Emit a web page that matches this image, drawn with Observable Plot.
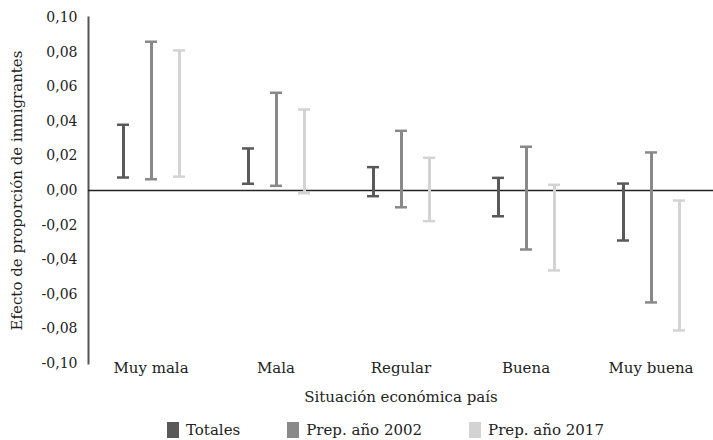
<!DOCTYPE html>
<html><head><meta charset="utf-8">
<script src="https://cdn.jsdelivr.net/npm/d3@7"></script>
<script src="https://cdn.jsdelivr.net/npm/@observablehq/plot@0.6"></script>
<style>
html,body{margin:0;padding:0;background:#fff;}
body{font-family:"DejaVu Serif",serif;width:713px;height:440px;overflow:hidden;}
#legend{display:flex;align-items:center;height:28px;padding-left:167px;padding-top:4px;font-size:15px;color:#222;}
.item{display:flex;align-items:center;margin-right:47px;}
.sw{width:12px;height:16px;margin-right:7px;}
</style></head><body><div id="chart"></div><div id="legend"></div><script>
const categories = ["Muy mala","Mala","Regular","Buena","Muy buena"];
const series = ["Totales","Prep. año 2002","Prep. año 2017"];
const colors = ["#595959","#898989","#d3d3d3"];
const lowTotales  = [0.0075, 0.0039, -0.0033, -0.0149, -0.0289];
const highTotales = [0.0380, 0.0243,  0.0135,  0.0073,  0.0040];
const low2002     = [0.0065, 0.0027, -0.0097, -0.0341, -0.0647];
const high2002    = [0.0860, 0.0565,  0.0345,  0.0253,  0.0220];
const low2017     = [0.0080, -0.0016, -0.0177, -0.0462, -0.0809];
const high2017    = [0.0810, 0.0468,  0.0189,  0.0033, -0.0058];
const yTicks = [-0.10,-0.08,-0.06,-0.04,-0.02,0,0.02,0.04,0.06,0.08,0.10];

const lows = [lowTotales, low2002, low2017];
const highs = [highTotales, high2002, high2017];
const data = [];
categories.forEach((c, i) => series.forEach((s, j) => data.push({cat: c, serie: s, low: lows[j][i], high: highs[j][i]})));

const chart = Plot.plot({
  width: 713, height: 412,
  marginLeft: 87, marginRight: 0, marginTop: 17, marginBottom: 49,
  style: {fontFamily: "DejaVu Serif", fontSize: "15px", color: "#222", background: "white"},
  fx: {domain: categories, padding: 0, axis: "bottom", tickSize: 0, tickPadding: -1,
       label: "Situación económica país", labelAnchor: "center", labelOffset: 38},
  x: {domain: series, paddingInner: 0.58, paddingOuter: 0.98, axis: null},
  y: {domain: [-0.1, 0.1], ticks: yTicks, axis: null},
  color: {domain: series, range: colors},
  marks: [
    Plot.axisY({ticks: yTicks, tickFormat: d => d.toFixed(2).replace(".", ","), tickSize: 0, tickPadding: 11,
      fontSize: 14, label: null, facetAnchor: "left"}),
    Plot.axisY({ticks: [], tickSize: 0, label: "Efecto de proporción de inmigrantes",
      labelAnchor: "center", labelArrow: "none", labelOffset: 77, fontSize: 15, facetAnchor: "left"}),
    Plot.frame({anchor: "left", facetAnchor: "left", stroke: "#555", strokeWidth: 2}),
    Plot.ruleY([0], {stroke: "#222", strokeWidth: 1.5}),
    Plot.ruleX(data, {fx: "cat", x: "serie", y1: "low", y2: "high", stroke: "serie", strokeWidth: 3}),
    Plot.tickY(data, {fx: "cat", x: "serie", y: "low", stroke: "serie", strokeWidth: 2.5}),
    Plot.tickY(data, {fx: "cat", x: "serie", y: "high", stroke: "serie", strokeWidth: 2.5})
  ]
});
document.getElementById("chart").append(chart);

const legend = document.getElementById("legend");
series.forEach((s, j) => {
  const it = document.createElement("div"); it.className = "item";
  const sw = document.createElement("div"); sw.className = "sw"; sw.style.background = colors[j];
  const tx = document.createElement("span"); tx.textContent = s;
  it.append(sw, tx); legend.append(it);
});
</script></body></html>
